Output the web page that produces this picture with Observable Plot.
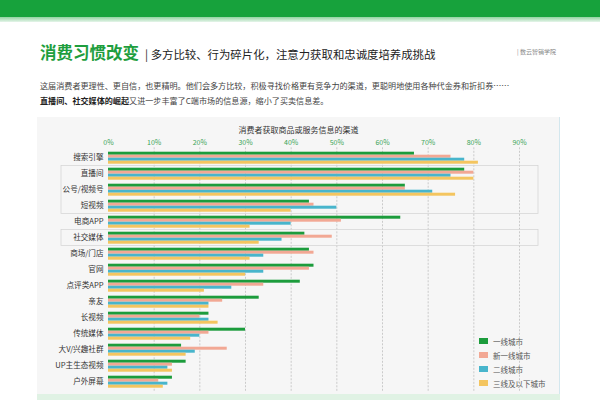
<!DOCTYPE html>
<html>
<head>
<meta charset="utf-8">
<script src="https://cdn.jsdelivr.net/npm/d3@7"></script>
<script src="https://cdn.jsdelivr.net/npm/@observablehq/plot@0.6"></script>
<style>
  html, body { margin: 0; padding: 0; background: #fff; }
  body { width: 600px; height: 400px; position: relative; overflow: hidden; font-family: "Noto Sans CJK SC", "Noto Sans", sans-serif; }
  .abs { position: absolute; }
  #topbar { left: 0; top: 0; width: 600px; height: 17px; background: #17a23c; }
  #stripe { left: 0; top: 17px; width: 600px; height: 5px; background: linear-gradient(#92d3a2, #e6f5ea); }
  #title { left: 40px; top: 40px; white-space: nowrap; }
  #title .main { color: #1e9e3e; font-weight: 700; font-size: 16.5px; }
  #title .sub { color: #222; font-size: 11.4px; margin-left: 6px; }
  #brand { left: 517px; top: 47px; font-size: 6px; color: #888; white-space: nowrap; }
  .para { left: 40px; font-size: 8.1px; color: #444; white-space: nowrap; }
  .para b { color: #222; }
  #panel { left: 37px; top: 117px; width: 522px; height: 277px; background: #f6f6f6; border-right: 1px solid #d3e7ee; }
  #bottomstrip { left: 37px; top: 394px; width: 523px; height: 6px; background: #e0f2e4; }
  #ctitle { left: 37px; top: 124px; width: 523px; text-align: center; font-size: 8px; color: #333; }
  #legend { left: 479px; top: 334px; font-size: 7.5px; color: #555; }
  #legend div { height: 14px; display: flex; align-items: center; white-space: nowrap; }
  #legend span.sw { display: inline-block; width: 9px; height: 6px; margin-right: 5px; }
  svg.chart { position: absolute; left: 0; top: 117px; }
</style>
</head>
<body>
<div id="topbar" class="abs"></div>
<div id="stripe" class="abs"></div>
<div id="title" class="abs"><span class="main">消费习惯改变</span><span class="sub">| 多方比较、行为碎片化，注意力获取和忠诚度培养成挑战</span></div>
<div id="brand" class="abs">| 数云智销学院</div>
<div class="abs para" style="top:80px">这届消费者更理性、更自信，也更精明。他们会多方比较，积极寻找价格更有竞争力的渠道，更聪明地使用各种代金券和折扣券……</div>
<div class="abs para" style="top:95px"><b>直播间、社交媒体的崛起</b>又进一步丰富了C端市场的信息源，缩小了买卖信息差。</div>
<div id="panel" class="abs"></div>
<div id="bottomstrip" class="abs"></div>
<div id="ctitle" class="abs">消费者获取商品或服务信息的渠道</div>
<div id="legend" class="abs"></div>
<script>
const categories = ["搜索引擎","直播间","公号/视频号","短视频","电商APP","社交媒体","商场/门店","官网","点评类APP","亲友","长视频","传统媒体","大V/兴趣社群","UP主生态视频","户外屏幕"];
const cities = ["一线城市","新一线城市","二线城市","三线及以下城市"];
const colors = ["#1c9c3c","#f2a894","#48b5cc","#f4c55f"];
const tier1 = [67,78,65,44,64,43,44,45,42,33,22,30,16,17,14];
const newTier1 = [75,80,65,45,51,49,45,44,34,25,20,22,26,14,11];
const tier2 = [78,75,71,50,40,38,34,34,27,22,22,20,19,13,13];
const tier3 = [81,80,76,40,31,33,31,30,21,22,24,18,17,14,12];
const xTicks = [0,10,20,30,40,50,60,70,80,90];
const highlightGroups = [["直播间","短视频"],["社交媒体","社交媒体"]];

const seriesList = [tier1, newTier1, tier2, tier3];
const data = [];
categories.forEach((c, i) => seriesList.forEach((s, j) => data.push({cat: c, city: cities[j], value: s[i]})));

const W = 560, H = 277, ML = 108, MR = 41, MT = 30.3, MB = 2;

function boxes(index, scales, values, dims) {
  const y = scales.y, x = scales.x;
  const bw = y.bandwidth ? y.bandwidth() : 12.9;
  const g = d3.create("svg:g");
  for (const [a, b] of highlightGroups) {
    const top = y(a) - 1.5, bot = y(b) + bw + 1.5;
    const left = dims.marginLeft - 47, right = x(90) + 19;
    g.append("rect").attr("x", left).attr("y", top).attr("width", right - left).attr("height", bot - top)
      .attr("fill", "none").attr("stroke", "#d6d6d6").attr("stroke-width", 0.8);
  }
  return g.node();
}

const bg = Plot.plot({
  width: W, height: H, marginLeft: ML, marginRight: MR, marginTop: MT, marginBottom: MB,
  style: {background: "transparent", color: "#3aa457", fontSize: "7px", fontFamily: "Noto Sans CJK SC"},
  x: {domain: [0, 90], axis: "top", ticks: xTicks, tickFormat: d => d + "%", tickSize: 0, tickPadding: 3, label: null},
  y: {type: "band", domain: categories, padding: 0.2, axis: null},
  marks: [
    Plot.ruleX(xTicks.filter(d => d > 0), {stroke: "#b8b8b8", strokeWidth: 0.7, strokeDasharray: "2,1.5"}),
    boxes
  ]
});
bg.classList.add("chart");
document.body.appendChild(bg);

const fg = Plot.plot({
  width: W, height: H, marginLeft: ML, marginRight: MR, marginTop: MT, marginBottom: MB,
  style: {background: "transparent", color: "#333", fontSize: "7.6px", fontFamily: "Noto Sans CJK SC"},
  x: {domain: [0, 90], axis: null},
  fy: {domain: categories, padding: 0.2, axis: "left", label: null, tickPadding: 5},
  y: {domain: cities, padding: 0.04, axis: null},
  color: {domain: cities, range: colors},
  marks: [
    Plot.barX(data, {fy: "cat", y: "city", x: "value", fill: "city"})
  ]
});
fg.classList.add("chart");
document.body.appendChild(fg);

const legend = document.getElementById("legend");
cities.forEach((c, i) => {
  const row = document.createElement("div");
  row.innerHTML = `<span class="sw" style="background:${colors[i]}"></span>${c}`;
  legend.appendChild(row);
});
</script>
</body>
</html>
